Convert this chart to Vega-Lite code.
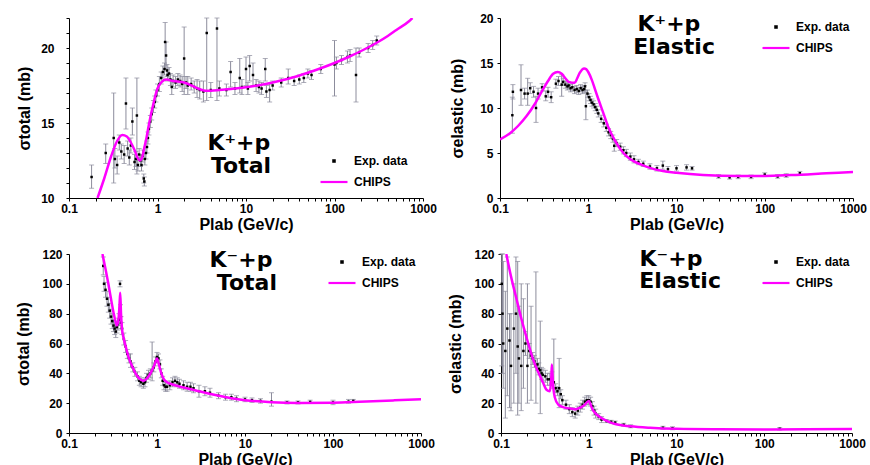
{
"$schema": "https://vega.github.io/schema/vega-lite/v6.json",
"padding": {"left": 15, "top": 12, "right": 5, "bottom": 0},
"background": "white",
"config": {
  "view": {"stroke": null},
  "axis": {"grid": false, "domainColor": "black", "tickColor": "black", "tickSize": 3, "labelFont": "Liberation Sans", "labelFontWeight": "bold", "labelFontSize": 12, "labelColor": "black", "titleFont": "Liberation Sans", "titleFontWeight": "bold", "titleFontSize": 16, "titleColor": "black", "labelOverlap": false, "labelSeparation": -20, "labelFlush": false},
  "legend": {"title": null, "labelFont": "Liberation Sans", "labelFontWeight": "bold", "labelFontSize": 12, "labelColor": "black", "symbolSize": 729, "symbolStrokeWidth": 2.2, "labelOffset": 5, "rowPadding": -15, "padding": 0}
},
"datasets": {
"exp": [
{"panel":"a","p":0.18,"s":11.4,"lo":10.65,"hi":12.2},{"panel":"a","p":0.26,"s":13.0,"lo":12.3,"hi":13.6},{"panel":"a","p":0.32,"s":14.0,"lo":11.0,"hi":17.0},{"panel":"a","p":0.33,"s":12.6,"lo":12.0,"hi":13.3},{"panel":"a","p":0.35,"s":12.2,"lo":11.6,"hi":12.8},{"panel":"a","p":0.37,"s":13.7,"lo":13.2,"hi":14.2},{"panel":"a","p":0.39,"s":13.1,"lo":12.6,"hi":13.6},{"panel":"a","p":0.42,"s":12.9,"lo":12.3,"hi":13.5},{"panel":"a","p":0.44,"s":16.3,"lo":14.6,"hi":18.0},{"panel":"a","p":0.46,"s":13.3,"lo":12.8,"hi":13.8},{"panel":"a","p":0.48,"s":12.7,"lo":12.2,"hi":13.2},{"panel":"a","p":0.5,"s":13.5,"lo":13.0,"hi":14.0},{"panel":"a","p":0.52,"s":15.1,"lo":14.2,"hi":16.0},{"panel":"a","p":0.55,"s":12.4,"lo":11.9,"hi":12.9},{"panel":"a","p":0.57,"s":12.6,"lo":12.1,"hi":13.1},{"panel":"a","p":0.585,"s":15.5,"lo":11.6,"hi":18.0},{"panel":"a","p":0.6,"s":12.2,"lo":11.8,"hi":12.7},{"panel":"a","p":0.62,"s":12.9,"lo":12.5,"hi":13.3},{"panel":"a","p":0.64,"s":12.5,"lo":12.1,"hi":12.9},{"panel":"a","p":0.66,"s":12.2,"lo":11.8,"hi":12.6},{"panel":"a","p":0.68,"s":12.8,"lo":12.4,"hi":13.2},{"panel":"a","p":0.7,"s":11.3,"lo":11.0,"hi":11.6},{"panel":"a","p":0.71,"s":11.1,"lo":10.8,"hi":11.4},{"panel":"a","p":0.72,"s":12.6,"lo":12.2,"hi":13.0},{"panel":"a","p":0.74,"s":13.0,"lo":12.6,"hi":13.4},{"panel":"a","p":0.76,"s":13.4,"lo":13.0,"hi":13.8},{"panel":"a","p":0.78,"s":14.0,"lo":13.6,"hi":14.4},{"panel":"a","p":0.8,"s":14.6,"lo":14.2,"hi":15.0},{"panel":"a","p":0.83,"s":15.1,"lo":14.7,"hi":15.5},{"panel":"a","p":0.86,"s":15.6,"lo":15.2,"hi":16.0},{"panel":"a","p":0.9,"s":16.1,"lo":15.7,"hi":16.5},{"panel":"a","p":0.93,"s":16.4,"lo":16.0,"hi":16.8},{"panel":"a","p":0.96,"s":16.8,"lo":16.4,"hi":17.2},{"panel":"a","p":1.0,"s":17.2,"lo":16.8,"hi":17.6},{"panel":"a","p":1.05,"s":17.6,"lo":17.1,"hi":18.1},{"panel":"a","p":1.1,"s":18.0,"lo":17.6,"hi":18.4},{"panel":"a","p":1.15,"s":18.4,"lo":18.0,"hi":18.8},{"panel":"a","p":1.2,"s":18.6,"lo":18.2,"hi":19.0},{"panel":"a","p":1.22,"s":20.4,"lo":18.6,"hi":21.7},{"panel":"a","p":1.25,"s":19.5,"lo":18.8,"hi":20.4},{"panel":"a","p":1.28,"s":18.5,"lo":18.1,"hi":18.9},{"panel":"a","p":1.3,"s":18.2,"lo":17.8,"hi":18.6},{"panel":"a","p":1.35,"s":18.3,"lo":17.9,"hi":18.7},{"panel":"a","p":1.4,"s":17.9,"lo":17.5,"hi":18.3},{"panel":"a","p":1.45,"s":17.4,"lo":16.9,"hi":17.9},{"panel":"a","p":1.5,"s":17.8,"lo":17.4,"hi":18.2},{"panel":"a","p":1.6,"s":17.7,"lo":17.3,"hi":18.1},{"panel":"a","p":1.7,"s":17.9,"lo":17.5,"hi":18.3},{"panel":"a","p":1.8,"s":17.8,"lo":17.4,"hi":18.2},{"panel":"a","p":1.9,"s":17.6,"lo":17.1,"hi":18.1},{"panel":"a","p":2.0,"s":19.3,"lo":16.9,"hi":21.4},{"panel":"a","p":2.1,"s":17.7,"lo":17.3,"hi":18.1},{"panel":"a","p":2.2,"s":17.5,"lo":16.9,"hi":18.1},{"panel":"a","p":2.4,"s":17.6,"lo":17.2,"hi":18.0},{"panel":"a","p":2.6,"s":17.4,"lo":17.0,"hi":17.8},{"panel":"a","p":2.8,"s":17.3,"lo":16.7,"hi":17.9},{"panel":"a","p":3.0,"s":17.2,"lo":16.6,"hi":17.8},{"panel":"a","p":3.3,"s":17.1,"lo":16.4,"hi":17.8},{"panel":"a","p":3.6,"s":21.0,"lo":16.5,"hi":22},{"panel":"a","p":4.0,"s":17.2,"lo":16.7,"hi":17.7},{"panel":"a","p":4.7,"s":21.3,"lo":16.5,"hi":22},{"panel":"a","p":5.0,"s":17.3,"lo":16.8,"hi":17.8},{"panel":"a","p":6.0,"s":17.2,"lo":16.8,"hi":17.6},{"panel":"a","p":6.7,"s":18.4,"lo":17.4,"hi":19.1},{"panel":"a","p":7.5,"s":17.3,"lo":16.9,"hi":17.7},{"panel":"a","p":8.5,"s":18.0,"lo":17.0,"hi":19.3},{"panel":"a","p":9.0,"s":17.4,"lo":16.9,"hi":17.9},{"panel":"a","p":10.0,"s":18.6,"lo":17.5,"hi":19.4},{"panel":"a","p":10.5,"s":17.3,"lo":16.9,"hi":17.7},{"panel":"a","p":11.0,"s":18.8,"lo":17.8,"hi":19.5},{"panel":"a","p":12.0,"s":18.2,"lo":17.5,"hi":19.0},{"panel":"a","p":13.0,"s":17.5,"lo":17.1,"hi":17.9},{"panel":"a","p":14.0,"s":17.4,"lo":17.0,"hi":17.8},{"panel":"a","p":15.0,"s":17.3,"lo":16.9,"hi":17.7},{"panel":"a","p":16.5,"s":18.6,"lo":17.8,"hi":19.3},{"panel":"a","p":17.0,"s":17.1,"lo":16.7,"hi":17.5},{"panel":"a","p":18.5,"s":17.2,"lo":16.4,"hi":17.6},{"panel":"a","p":20.0,"s":17.5,"lo":17.2,"hi":17.8},{"panel":"a","p":25.0,"s":17.7,"lo":17.4,"hi":18.0},{"panel":"a","p":30.0,"s":18.0,"lo":17.6,"hi":18.6},{"panel":"a","p":35.0,"s":17.8,"lo":17.5,"hi":18.1},{"panel":"a","p":40.0,"s":17.9,"lo":17.6,"hi":18.2},{"panel":"a","p":45.0,"s":18.0,"lo":17.7,"hi":18.3},{"panel":"a","p":50.0,"s":18.3,"lo":18.0,"hi":18.6},{"panel":"a","p":55.0,"s":18.2,"lo":17.9,"hi":18.5},{"panel":"a","p":70.0,"s":18.6,"lo":18.3,"hi":18.9},{"panel":"a","p":100.0,"s":18.9,"lo":16.8,"hi":20.5},{"panel":"a","p":105.0,"s":19.0,"lo":18.6,"hi":19.4},{"panel":"a","p":120.0,"s":19.2,"lo":18.9,"hi":19.5},{"panel":"a","p":140.0,"s":19.4,"lo":19.0,"hi":19.8},{"panel":"a","p":150.0,"s":19.5,"lo":19.1,"hi":19.9},{"panel":"a","p":175.0,"s":18.2,"lo":16.4,"hi":20.0},{"panel":"a","p":190.0,"s":19.7,"lo":19.4,"hi":20.0},{"panel":"a","p":240.0,"s":20.0,"lo":19.7,"hi":20.3},{"panel":"a","p":270.0,"s":20.2,"lo":19.9,"hi":20.5},{"panel":"a","p":300.0,"s":20.5,"lo":20.2,"hi":20.8},
{"panel":"b","p":0.138,"s":9.2,"lo":7.2,"hi":11.2},{"panel":"b","p":0.14,"s":11.8,"lo":11.0,"hi":12.6},{"panel":"b","p":0.173,"s":12.0,"lo":10.3,"hi":14.8},{"panel":"b","p":0.19,"s":11.6,"lo":11.0,"hi":12.2},{"panel":"b","p":0.206,"s":11.6,"lo":10.3,"hi":13.3},{"panel":"b","p":0.22,"s":12.2,"lo":11.6,"hi":12.8},{"panel":"b","p":0.24,"s":11.8,"lo":11.2,"hi":12.4},{"panel":"b","p":0.256,"s":10.0,"lo":8.4,"hi":11.3},{"panel":"b","p":0.27,"s":11.6,"lo":11.0,"hi":12.2},{"panel":"b","p":0.3,"s":12.3,"lo":11.9,"hi":12.7},{"panel":"b","p":0.33,"s":11.3,"lo":10.8,"hi":11.9},{"panel":"b","p":0.35,"s":11.8,"lo":11.2,"hi":12.3},{"panel":"b","p":0.38,"s":11.2,"lo":10.6,"hi":11.8},{"panel":"b","p":0.43,"s":12.7,"lo":12.2,"hi":13.2},{"panel":"b","p":0.46,"s":13.0,"lo":12.5,"hi":13.5},{"panel":"b","p":0.5,"s":12.6,"lo":11.3,"hi":13.7},{"panel":"b","p":0.52,"s":12.9,"lo":12.5,"hi":13.3},{"panel":"b","p":0.55,"s":12.6,"lo":12.2,"hi":13.0},{"panel":"b","p":0.58,"s":12.4,"lo":12.0,"hi":12.8},{"panel":"b","p":0.6,"s":12.5,"lo":12.1,"hi":12.9},{"panel":"b","p":0.63,"s":12.2,"lo":11.8,"hi":12.6},{"panel":"b","p":0.66,"s":12.3,"lo":11.9,"hi":12.7},{"panel":"b","p":0.7,"s":12.0,"lo":11.6,"hi":12.4},{"panel":"b","p":0.74,"s":12.1,"lo":11.7,"hi":12.5},{"panel":"b","p":0.78,"s":11.9,"lo":11.5,"hi":12.3},{"panel":"b","p":0.82,"s":12.2,"lo":11.8,"hi":12.6},{"panel":"b","p":0.86,"s":12.0,"lo":11.6,"hi":12.4},{"panel":"b","p":0.9,"s":12.1,"lo":11.7,"hi":12.5},{"panel":"b","p":0.92,"s":12.4,"lo":12.0,"hi":12.8},{"panel":"b","p":0.94,"s":10.2,"lo":8.7,"hi":11.9},{"panel":"b","p":0.98,"s":11.6,"lo":11.2,"hi":12.0},{"panel":"b","p":1.02,"s":11.2,"lo":10.8,"hi":11.6},{"panel":"b","p":1.06,"s":10.9,"lo":10.5,"hi":11.3},{"panel":"b","p":1.1,"s":10.6,"lo":10.2,"hi":11.0},{"panel":"b","p":1.15,"s":10.4,"lo":10.0,"hi":10.8},{"panel":"b","p":1.2,"s":10.1,"lo":9.7,"hi":10.5},{"panel":"b","p":1.25,"s":9.8,"lo":9.4,"hi":10.2},{"panel":"b","p":1.3,"s":9.4,"lo":9.0,"hi":9.8},{"panel":"b","p":1.4,"s":8.8,"lo":8.4,"hi":9.2},{"panel":"b","p":1.5,"s":8.3,"lo":7.9,"hi":8.7},{"panel":"b","p":1.6,"s":7.8,"lo":7.4,"hi":8.2},{"panel":"b","p":1.7,"s":7.3,"lo":6.9,"hi":7.7},{"panel":"b","p":1.8,"s":7.0,"lo":6.6,"hi":7.4},{"panel":"b","p":1.9,"s":6.6,"lo":6.2,"hi":7.0},{"panel":"b","p":1.97,"s":5.8,"lo":5.2,"hi":6.4},{"panel":"b","p":2.1,"s":6.1,"lo":5.7,"hi":6.5},{"panel":"b","p":2.3,"s":5.7,"lo":5.3,"hi":6.1},{"panel":"b","p":2.5,"s":5.3,"lo":4.9,"hi":5.7},{"panel":"b","p":2.7,"s":5.0,"lo":4.6,"hi":5.4},{"panel":"b","p":3.0,"s":4.6,"lo":4.2,"hi":5.0},{"panel":"b","p":3.3,"s":4.3,"lo":3.9,"hi":4.7},{"panel":"b","p":3.7,"s":4.0,"lo":3.7,"hi":4.3},{"panel":"b","p":4.2,"s":3.8,"lo":3.5,"hi":4.1},{"panel":"b","p":5.0,"s":3.5,"lo":3.2,"hi":3.8},{"panel":"b","p":6.0,"s":3.3,"lo":3.0,"hi":3.6},{"panel":"b","p":7.0,"s":3.6,"lo":3.2,"hi":4.1},{"panel":"b","p":8.0,"s":3.2,"lo":2.9,"hi":3.5},{"panel":"b","p":10.0,"s":3.3,"lo":3.0,"hi":3.6},{"panel":"b","p":13.0,"s":3.4,"lo":3.1,"hi":3.7},{"panel":"b","p":15.0,"s":3.3,"lo":3.1,"hi":3.5},{"panel":"b","p":30.0,"s":2.4,"lo":2.2,"hi":2.6},{"panel":"b","p":40.0,"s":2.3,"lo":2.1,"hi":2.5},{"panel":"b","p":50.0,"s":2.35,"lo":2.15,"hi":2.55},{"panel":"b","p":70.0,"s":2.35,"lo":2.15,"hi":2.55},{"panel":"b","p":100.0,"s":2.6,"lo":2.4,"hi":2.8},{"panel":"b","p":140.0,"s":2.4,"lo":2.2,"hi":2.6},{"panel":"b","p":175.0,"s":2.5,"lo":2.3,"hi":2.7},{"panel":"b","p":250.0,"s":2.75,"lo":2.55,"hi":2.95},
{"panel":"c","p":0.245,"s":112,"lo":106,"hi":118},{"panel":"c","p":0.25,"s":100,"lo":95,"hi":105},{"panel":"c","p":0.26,"s":96,"lo":91,"hi":101},{"panel":"c","p":0.27,"s":90,"lo":85,"hi":95},{"panel":"c","p":0.28,"s":86,"lo":81,"hi":91},{"panel":"c","p":0.29,"s":82,"lo":77,"hi":87},{"panel":"c","p":0.3,"s":78,"lo":73,"hi":83},{"panel":"c","p":0.31,"s":75,"lo":70,"hi":80},{"panel":"c","p":0.32,"s":72,"lo":68,"hi":76},{"panel":"c","p":0.33,"s":70,"lo":66,"hi":74},{"panel":"c","p":0.34,"s":68,"lo":64,"hi":72},{"panel":"c","p":0.35,"s":71,"lo":67,"hi":75},{"panel":"c","p":0.36,"s":73,"lo":69,"hi":77},{"panel":"c","p":0.37,"s":76,"lo":72,"hi":80},{"panel":"c","p":0.38,"s":100,"lo":98,"hi":102},{"panel":"c","p":0.385,"s":82,"lo":78,"hi":86},{"panel":"c","p":0.39,"s":74,"lo":70,"hi":78},{"panel":"c","p":0.4,"s":70,"lo":66,"hi":74},{"panel":"c","p":0.42,"s":63,"lo":59,"hi":67},{"panel":"c","p":0.44,"s":58,"lo":54,"hi":62},{"panel":"c","p":0.46,"s":53,"lo":50,"hi":56},{"panel":"c","p":0.48,"s":50,"lo":47,"hi":53},{"panel":"c","p":0.5,"s":48,"lo":44,"hi":53},{"panel":"c","p":0.53,"s":44,"lo":41,"hi":47},{"panel":"c","p":0.56,"s":41,"lo":38,"hi":44},{"panel":"c","p":0.6,"s":38,"lo":35,"hi":41},{"panel":"c","p":0.63,"s":35,"lo":32,"hi":38},{"panel":"c","p":0.66,"s":34,"lo":31,"hi":37},{"panel":"c","p":0.7,"s":33,"lo":30,"hi":36},{"panel":"c","p":0.73,"s":34,"lo":31,"hi":37},{"panel":"c","p":0.76,"s":37,"lo":34,"hi":40},{"panel":"c","p":0.8,"s":39,"lo":36,"hi":42},{"panel":"c","p":0.84,"s":40,"lo":37,"hi":43},{"panel":"c","p":0.88,"s":42,"lo":35,"hi":61},{"panel":"c","p":0.92,"s":44,"lo":41,"hi":47},{"panel":"c","p":0.96,"s":48,"lo":45,"hi":51},{"panel":"c","p":1.0,"s":51,"lo":48,"hi":54},{"panel":"c","p":1.04,"s":50,"lo":47,"hi":53},{"panel":"c","p":1.08,"s":46,"lo":43,"hi":49},{"panel":"c","p":1.12,"s":40,"lo":37,"hi":43},{"panel":"c","p":1.16,"s":35,"lo":32,"hi":38},{"panel":"c","p":1.2,"s":32,"lo":29,"hi":35},{"panel":"c","p":1.25,"s":31,"lo":28,"hi":34},{"panel":"c","p":1.3,"s":31,"lo":28,"hi":34},{"panel":"c","p":1.4,"s":32,"lo":29,"hi":35},{"panel":"c","p":1.5,"s":34,"lo":31,"hi":37},{"panel":"c","p":1.6,"s":35,"lo":32,"hi":38},{"panel":"c","p":1.7,"s":34,"lo":31,"hi":37},{"panel":"c","p":1.8,"s":33,"lo":30,"hi":36},{"panel":"c","p":2.0,"s":32,"lo":29,"hi":35},{"panel":"c","p":2.2,"s":31,"lo":28,"hi":34},{"panel":"c","p":2.4,"s":31,"lo":28,"hi":34},{"panel":"c","p":2.6,"s":30,"lo":27,"hi":33},{"panel":"c","p":3.0,"s":28,"lo":24,"hi":32},{"panel":"c","p":3.5,"s":28,"lo":25,"hi":31},{"panel":"c","p":4.0,"s":27,"lo":24,"hi":30},{"panel":"c","p":5.0,"s":25,"lo":23,"hi":27},{"panel":"c","p":6.0,"s":24,"lo":22,"hi":26},{"panel":"c","p":7.0,"s":24,"lo":22,"hi":26},{"panel":"c","p":8.0,"s":23,"lo":21,"hi":25},{"panel":"c","p":10.0,"s":22.5,"lo":21,"hi":24},{"panel":"c","p":12.0,"s":22,"lo":20.5,"hi":23.5},{"panel":"c","p":15.0,"s":21.5,"lo":20,"hi":23},{"panel":"c","p":20.0,"s":21,"lo":18,"hi":27},{"panel":"c","p":30.0,"s":20.5,"lo":19.5,"hi":21.5},{"panel":"c","p":40.0,"s":20.5,"lo":19.5,"hi":21.5},{"panel":"c","p":55.0,"s":20.8,"lo":19.8,"hi":22},{"panel":"c","p":100.0,"s":20.5,"lo":19,"hi":22},{"panel":"c","p":150.0,"s":21,"lo":20,"hi":22.5},{"panel":"c","p":170.0,"s":21.5,"lo":20.5,"hi":22.5},
{"panel":"d","p":0.102,"s":100,"lo":45,"hi":120},{"panel":"d","p":0.104,"s":80,"lo":40,"hi":120},{"panel":"d","p":0.106,"s":60,"lo":30,"hi":115},{"panel":"d","p":0.112,"s":55,"lo":10,"hi":95},{"panel":"d","p":0.118,"s":70,"lo":25,"hi":118},{"panel":"d","p":0.125,"s":62,"lo":17,"hi":80},{"panel":"d","p":0.13,"s":45,"lo":15,"hi":80},{"panel":"d","p":0.14,"s":70,"lo":20,"hi":100},{"panel":"d","p":0.148,"s":80,"lo":40,"hi":118},{"panel":"d","p":0.155,"s":58,"lo":12,"hi":115},{"panel":"d","p":0.16,"s":50,"lo":20,"hi":85},{"panel":"d","p":0.17,"s":45,"lo":15,"hi":100},{"panel":"d","p":0.18,"s":55,"lo":30,"hi":90},{"panel":"d","p":0.19,"s":60,"lo":52,"hi":68},{"panel":"d","p":0.2,"s":45,"lo":20,"hi":100},{"panel":"d","p":0.21,"s":55,"lo":50,"hi":60},{"panel":"d","p":0.22,"s":52,"lo":22,"hi":85},{"panel":"d","p":0.23,"s":50,"lo":46,"hi":54},{"panel":"d","p":0.24,"s":48,"lo":44,"hi":52},{"panel":"d","p":0.25,"s":45,"lo":20,"hi":108},{"panel":"d","p":0.26,"s":46,"lo":42,"hi":50},{"panel":"d","p":0.27,"s":43,"lo":39,"hi":47},{"panel":"d","p":0.28,"s":42,"lo":13,"hi":75},{"panel":"d","p":0.29,"s":40,"lo":36,"hi":44},{"panel":"d","p":0.3,"s":39,"lo":35,"hi":43},{"panel":"d","p":0.32,"s":38,"lo":34,"hi":42},{"panel":"d","p":0.34,"s":36,"lo":32,"hi":40},{"panel":"d","p":0.36,"s":36,"lo":32,"hi":40},{"panel":"d","p":0.38,"s":37,"lo":33,"hi":41},{"panel":"d","p":0.4,"s":34,"lo":30,"hi":63},{"panel":"d","p":0.42,"s":30,"lo":27,"hi":33},{"panel":"d","p":0.44,"s":28,"lo":25,"hi":31},{"panel":"d","p":0.46,"s":30,"lo":17,"hi":50},{"panel":"d","p":0.48,"s":26,"lo":23,"hi":29},{"panel":"d","p":0.5,"s":22,"lo":19,"hi":25},{"panel":"d","p":0.55,"s":19,"lo":16,"hi":22},{"panel":"d","p":0.6,"s":16,"lo":13,"hi":19},{"panel":"d","p":0.65,"s":14,"lo":11,"hi":17},{"panel":"d","p":0.7,"s":13,"lo":10,"hi":16},{"panel":"d","p":0.75,"s":15,"lo":12,"hi":18},{"panel":"d","p":0.8,"s":17,"lo":14,"hi":20},{"panel":"d","p":0.85,"s":19,"lo":16,"hi":22},{"panel":"d","p":0.9,"s":21,"lo":18,"hi":24},{"panel":"d","p":0.95,"s":22,"lo":19,"hi":25},{"panel":"d","p":1.0,"s":22,"lo":19,"hi":25},{"panel":"d","p":1.05,"s":21,"lo":18,"hi":24},{"panel":"d","p":1.1,"s":18,"lo":15,"hi":21},{"panel":"d","p":1.15,"s":15,"lo":12,"hi":18},{"panel":"d","p":1.2,"s":13,"lo":10,"hi":16},{"panel":"d","p":1.3,"s":11,"lo":9,"hi":13},{"panel":"d","p":1.4,"s":9,"lo":7,"hi":11},{"panel":"d","p":1.6,"s":8,"lo":7,"hi":9},{"panel":"d","p":1.8,"s":7.5,"lo":6.5,"hi":8.5},{"panel":"d","p":2.0,"s":7,"lo":6,"hi":8},{"panel":"d","p":2.5,"s":5.5,"lo":4.5,"hi":6.5},{"panel":"d","p":3.0,"s":4.5,"lo":3.5,"hi":5.5},{"panel":"d","p":7.0,"s":3.5,"lo":2.5,"hi":4.5},{"panel":"d","p":9.0,"s":3.2,"lo":2.2,"hi":4.2},{"panel":"d","p":150.0,"s":2.8,"lo":2.0,"hi":3.6}
],
"chips": [
{"panel":"a","p":0.21,"s":10},{"panel":"a","p":0.25,"s":11.3},{"panel":"a","p":0.3,"s":12.8},{"panel":"a","p":0.35,"s":13.8},{"panel":"a","p":0.4,"s":14.2},{"panel":"a","p":0.45,"s":14.1},{"panel":"a","p":0.5,"s":13.7},{"panel":"a","p":0.55,"s":13.2},{"panel":"a","p":0.6,"s":12.65},{"panel":"a","p":0.63,"s":12.5},{"panel":"a","p":0.67,"s":12.7},{"panel":"a","p":0.7,"s":13.2},{"panel":"a","p":0.75,"s":14.0},{"panel":"a","p":0.8,"s":14.9},{"panel":"a","p":0.9,"s":16.3},{"panel":"a","p":1.0,"s":17.3},{"panel":"a","p":1.1,"s":17.7},{"panel":"a","p":1.25,"s":17.9},{"panel":"a","p":1.5,"s":17.8},{"panel":"a","p":2.0,"s":17.7},{"panel":"a","p":3.0,"s":17.25},{"panel":"a","p":3.5,"s":17.15},{"panel":"a","p":5.0,"s":17.2},{"panel":"a","p":9.0,"s":17.35},{"panel":"a","p":15.0,"s":17.55},{"panel":"a","p":20.0,"s":17.7},{"panel":"a","p":30.0,"s":17.95},{"panel":"a","p":50.0,"s":18.35},{"panel":"a","p":70.0,"s":18.65},{"panel":"a","p":100.0,"s":19.0},{"panel":"a","p":150.0,"s":19.45},{"panel":"a","p":200.0,"s":19.8},{"panel":"a","p":300.0,"s":20.35},{"panel":"a","p":400.0,"s":20.8},{"panel":"a","p":500.0,"s":21.2},{"panel":"a","p":700.0,"s":21.8},{"panel":"a","p":760.0,"s":22},
{"panel":"b","p":0.1,"s":6.5},{"panel":"b","p":0.13,"s":7.2},{"panel":"b","p":0.16,"s":8.0},{"panel":"b","p":0.2,"s":9.1},{"panel":"b","p":0.25,"s":10.5},{"panel":"b","p":0.3,"s":11.9},{"panel":"b","p":0.35,"s":13.0},{"panel":"b","p":0.4,"s":13.8},{"panel":"b","p":0.45,"s":14.0},{"panel":"b","p":0.5,"s":13.8},{"panel":"b","p":0.55,"s":13.3},{"panel":"b","p":0.6,"s":12.9},{"panel":"b","p":0.7,"s":12.8},{"panel":"b","p":0.75,"s":13.3},{"panel":"b","p":0.8,"s":13.9},{"panel":"b","p":0.9,"s":14.4},{"panel":"b","p":0.95,"s":14.3},{"panel":"b","p":1.0,"s":14.0},{"panel":"b","p":1.1,"s":13.1},{"panel":"b","p":1.2,"s":12.0},{"panel":"b","p":1.3,"s":11.0},{"panel":"b","p":1.5,"s":9.3},{"panel":"b","p":1.7,"s":7.8},{"panel":"b","p":2.0,"s":6.4},{"panel":"b","p":2.5,"s":5.0},{"panel":"b","p":3.0,"s":4.3},{"panel":"b","p":4.0,"s":3.7},{"panel":"b","p":5.0,"s":3.35},{"panel":"b","p":7.0,"s":3.0},{"panel":"b","p":10.0,"s":2.8},{"panel":"b","p":20.0,"s":2.55},{"panel":"b","p":50.0,"s":2.45},{"panel":"b","p":100.0,"s":2.45},{"panel":"b","p":200.0,"s":2.55},{"panel":"b","p":500.0,"s":2.75},{"panel":"b","p":1000.0,"s":2.9},
{"panel":"c","p":0.24,"s":120},{"panel":"c","p":0.26,"s":110},{"panel":"c","p":0.28,"s":100},{"panel":"c","p":0.3,"s":90},{"panel":"c","p":0.32,"s":81},{"panel":"c","p":0.34,"s":74},{"panel":"c","p":0.35,"s":72},{"panel":"c","p":0.365,"s":76},{"panel":"c","p":0.375,"s":86},{"panel":"c","p":0.382,"s":94},{"panel":"c","p":0.39,"s":80},{"panel":"c","p":0.4,"s":70},{"panel":"c","p":0.42,"s":63},{"panel":"c","p":0.45,"s":56},{"panel":"c","p":0.48,"s":50},{"panel":"c","p":0.52,"s":45},{"panel":"c","p":0.57,"s":40},{"panel":"c","p":0.62,"s":37},{"panel":"c","p":0.7,"s":35},{"panel":"c","p":0.78,"s":37},{"panel":"c","p":0.86,"s":41},{"panel":"c","p":0.94,"s":46},{"panel":"c","p":1.0,"s":50},{"panel":"c","p":1.05,"s":46},{"panel":"c","p":1.12,"s":40},{"panel":"c","p":1.2,"s":36},{"panel":"c","p":1.3,"s":34},{"panel":"c","p":1.5,"s":32.5},{"panel":"c","p":2.0,"s":30.5},{"panel":"c","p":3.0,"s":28},{"panel":"c","p":5.0,"s":25},{"panel":"c","p":7.0,"s":23.3},{"panel":"c","p":10.0,"s":22},{"panel":"c","p":20.0,"s":20.6},{"panel":"c","p":40.0,"s":20.1},{"panel":"c","p":100.0,"s":20.3},{"panel":"c","p":200.0,"s":20.9},{"panel":"c","p":500.0,"s":21.9},{"panel":"c","p":1000.0,"s":22.7},
{"panel":"d","p":0.115,"s":120},{"panel":"d","p":0.13,"s":105},{"panel":"d","p":0.15,"s":90},{"panel":"d","p":0.17,"s":77},{"panel":"d","p":0.2,"s":62},{"panel":"d","p":0.23,"s":50},{"panel":"d","p":0.26,"s":42},{"panel":"d","p":0.3,"s":34},{"panel":"d","p":0.33,"s":29},{"panel":"d","p":0.36,"s":28},{"panel":"d","p":0.375,"s":38},{"panel":"d","p":0.38,"s":46},{"panel":"d","p":0.39,"s":34},{"panel":"d","p":0.41,"s":24},{"panel":"d","p":0.45,"s":19},{"panel":"d","p":0.5,"s":17.5},{"panel":"d","p":0.6,"s":16.5},{"panel":"d","p":0.7,"s":16},{"panel":"d","p":0.8,"s":17},{"panel":"d","p":0.9,"s":19},{"panel":"d","p":1.0,"s":21.5},{"panel":"d","p":1.1,"s":16},{"panel":"d","p":1.2,"s":13},{"panel":"d","p":1.4,"s":10},{"panel":"d","p":1.7,"s":7.5},{"panel":"d","p":2.0,"s":6},{"panel":"d","p":3.0,"s":4.5},{"panel":"d","p":5.0,"s":3.5},{"panel":"d","p":10.0,"s":2.8},{"panel":"d","p":30.0,"s":2.5},{"panel":"d","p":100.0,"s":2.4},{"panel":"d","p":300.0,"s":2.5},{"panel":"d","p":1000.0,"s":2.6}
],
"notes": [
{"panel":"a","p":8.3,"s":13.67,"label":"K⁺+p"},{"panel":"a","p":8.8,"s":12.13,"label":"Total"},
{"panel":"b","p":8.2,"s":19.3,"label":"K⁺+p"},{"panel":"b","p":9.4,"s":16.8,"label":"Elastic"},
{"panel":"c","p":9.0,"s":116,"label":"K⁻+p"},{"panel":"c","p":10.5,"s":100.7,"label":"Total"},
{"panel":"d","p":8.65,"s":116.6,"label":"K⁻+p"},{"panel":"d","p":11,"s":101.9,"label":"Elastic"}
]
},
"spacing": 15,
"resolve": {"scale": {"x": "independent", "y": "independent", "color": "independent", "shape": "independent"}, "legend": {"color": "independent", "shape": "independent"}},
"vconcat": [
{"hconcat": [
{"width": 354, "height": 180, "layer": [
 {"data": {"name": "exp"}, "transform": [{"filter": "datum.panel === 'a'"}], "mark": {"type": "rule", "color": "#8c8c9c", "strokeWidth": 1},
  "encoding": {"x": {"field": "p", "type": "quantitative", "scale": {"type": "log", "domain": [0.1, 1000]}}, "y": {"field": "lo", "type": "quantitative", "scale": {"domain": [10, 22], "nice": false, "zero": false}}, "y2": {"field": "hi"}}},
 {"data": {"name": "exp"}, "transform": [{"filter": "datum.panel === 'a'"}], "mark": {"type": "tick", "orient": "horizontal", "size": 5, "thickness": 1, "color": "#8c8c9c"}, "encoding": {"x": {"field": "p", "type": "quantitative"}, "y": {"field": "lo", "type": "quantitative"}}},
 {"data": {"name": "exp"}, "transform": [{"filter": "datum.panel === 'a'"}], "mark": {"type": "tick", "orient": "horizontal", "size": 5, "thickness": 1, "color": "#8c8c9c"}, "encoding": {"x": {"field": "p", "type": "quantitative"}, "y": {"field": "hi", "type": "quantitative"}}},
 {"data": {"name": "exp"}, "transform": [{"filter": "datum.panel === 'a'"}], "mark": {"type": "point", "filled": false, "size": 300, "strokeWidth": 1.6, "opacity": 1},
  "encoding": {"x": {"field": "p", "type": "quantitative", "axis": {"title": "Plab (GeV/c)", "titlePadding": 2, "labelOverlap": false, "values": [0.1,0.2,0.3,0.4,0.5,0.6,0.7,0.8,0.9,1,2,3,4,5,6,7,8,9,10,20,30,40,50,60,70,80,90,100,200,300,400,500,600,700,800,900,1000], "labelExpr": "datum.value == 0.1 ? '0.1' : datum.value == 1 ? '1' : datum.value == 10 ? '10' : datum.value == 100 ? '100' : datum.value == 1000 ? '1000' : ''"}},
   "y": {"field": "s", "type": "quantitative", "axis": {"title": "σtotal (mb)", "labelOverlap": false, "tickCount": 13, "values": [10,11,12,13,14,15,16,17,18,19,20,21,22], "labelExpr": "datum.value == 10 ? '10' : datum.value == 15 ? '15' : datum.value == 20 ? '20' : ''", "labelPadding": 12, "titlePadding": 8}},
   "color": {"datum": "Exp. data", "scale": {"domain": ["Exp. data", "CHIPS"], "range": ["black", "#ff00ff"]}, "legend": {"orient": "none", "legendX": 250, "legendY": 128}},
   "shape": {"datum": "Exp. data", "scale": {"domain": ["Exp. data", "CHIPS"], "range": ["M-0.05,-0.05H0.05V0.05H-0.05Z", "stroke"]}, "legend": {"orient": "none", "legendX": 250, "legendY": 128}}}},
 {"data": {"name": "chips"}, "transform": [{"filter": "datum.panel === 'a'"}], "mark": {"type": "line", "strokeWidth": 2.5, "interpolate": "monotone", "clip": true},
  "encoding": {"x": {"field": "p", "type": "quantitative"}, "y": {"field": "s", "type": "quantitative"}, "color": {"datum": "CHIPS"}}},
 {"data": {"name": "notes"}, "transform": [{"filter": "datum.panel === 'a'"}], "mark": {"type": "text", "font": "DejaVu Sans", "fontWeight": "bold", "fontSize": 22, "align": "center", "baseline": "middle", "color": "black"},
  "encoding": {"x": {"field": "p", "type": "quantitative"}, "y": {"field": "s", "type": "quantitative"}, "text": {"field": "label"}}}
]},
{"width": 353, "height": 180, "layer": [
 {"data": {"name": "exp"}, "transform": [{"filter": "datum.panel === 'b'"}], "mark": {"type": "rule", "color": "#8c8c9c", "strokeWidth": 1},
  "encoding": {"x": {"field": "p", "type": "quantitative", "scale": {"type": "log", "domain": [0.1, 1000]}}, "y": {"field": "lo", "type": "quantitative", "scale": {"domain": [0, 20], "nice": false}}, "y2": {"field": "hi"}}},
 {"data": {"name": "exp"}, "transform": [{"filter": "datum.panel === 'b'"}], "mark": {"type": "tick", "orient": "horizontal", "size": 5, "thickness": 1, "color": "#8c8c9c"}, "encoding": {"x": {"field": "p", "type": "quantitative"}, "y": {"field": "lo", "type": "quantitative"}}},
 {"data": {"name": "exp"}, "transform": [{"filter": "datum.panel === 'b'"}], "mark": {"type": "tick", "orient": "horizontal", "size": 5, "thickness": 1, "color": "#8c8c9c"}, "encoding": {"x": {"field": "p", "type": "quantitative"}, "y": {"field": "hi", "type": "quantitative"}}},
 {"data": {"name": "exp"}, "transform": [{"filter": "datum.panel === 'b'"}], "mark": {"type": "point", "filled": false, "size": 300, "strokeWidth": 1.6, "opacity": 1},
  "encoding": {"x": {"field": "p", "type": "quantitative", "axis": {"title": "Plab (GeV/c)", "titlePadding": 2, "labelOverlap": false, "values": [0.1,0.2,0.3,0.4,0.5,0.6,0.7,0.8,0.9,1,2,3,4,5,6,7,8,9,10,20,30,40,50,60,70,80,90,100,200,300,400,500,600,700,800,900,1000], "labelExpr": "datum.value == 0.1 ? '0.1' : datum.value == 1 ? '1' : datum.value == 10 ? '10' : datum.value == 100 ? '100' : datum.value == 1000 ? '1000' : ''"}},
   "y": {"field": "s", "type": "quantitative", "axis": {"title": "σelastic (mb)", "labelOverlap": false, "tickCount": 5, "values": [0, 5, 10, 15, 20], "labelPadding": 4, "titlePadding": 14}},
   "color": {"datum": "Exp. data", "scale": {"domain": ["Exp. data", "CHIPS"], "range": ["black", "#ff00ff"]}, "legend": {"orient": "none", "legendX": 261, "legendY": -6}},
   "shape": {"datum": "Exp. data", "scale": {"domain": ["Exp. data", "CHIPS"], "range": ["M-0.05,-0.05H0.05V0.05H-0.05Z", "stroke"]}, "legend": {"orient": "none", "legendX": 261, "legendY": -6}}}},
 {"data": {"name": "chips"}, "transform": [{"filter": "datum.panel === 'b'"}], "mark": {"type": "line", "strokeWidth": 2.5, "interpolate": "monotone", "clip": true},
  "encoding": {"x": {"field": "p", "type": "quantitative"}, "y": {"field": "s", "type": "quantitative"}, "color": {"datum": "CHIPS"}}},
 {"data": {"name": "notes"}, "transform": [{"filter": "datum.panel === 'b'"}], "mark": {"type": "text", "font": "DejaVu Sans", "fontWeight": "bold", "fontSize": 22, "align": "center", "baseline": "middle", "color": "black"},
  "encoding": {"x": {"field": "p", "type": "quantitative"}, "y": {"field": "s", "type": "quantitative"}, "text": {"field": "label"}}}
]}
], "spacing": 12, "resolve": {"scale": {"x": "independent", "y": "independent", "color": "independent", "shape": "independent"}, "legend": {"color": "independent", "shape": "independent"}}},
{"hconcat": [
{"width": 352, "height": 179, "layer": [
 {"data": {"name": "exp"}, "transform": [{"filter": "datum.panel === 'c'"}], "mark": {"type": "rule", "color": "#8c8c9c", "strokeWidth": 1},
  "encoding": {"x": {"field": "p", "type": "quantitative", "scale": {"type": "log", "domain": [0.1, 1000]}}, "y": {"field": "lo", "type": "quantitative", "scale": {"domain": [0, 120], "nice": false}}, "y2": {"field": "hi"}}},
 {"data": {"name": "exp"}, "transform": [{"filter": "datum.panel === 'c'"}], "mark": {"type": "tick", "orient": "horizontal", "size": 5, "thickness": 1, "color": "#8c8c9c"}, "encoding": {"x": {"field": "p", "type": "quantitative"}, "y": {"field": "lo", "type": "quantitative"}}},
 {"data": {"name": "exp"}, "transform": [{"filter": "datum.panel === 'c'"}], "mark": {"type": "tick", "orient": "horizontal", "size": 5, "thickness": 1, "color": "#8c8c9c"}, "encoding": {"x": {"field": "p", "type": "quantitative"}, "y": {"field": "hi", "type": "quantitative"}}},
 {"data": {"name": "exp"}, "transform": [{"filter": "datum.panel === 'c'"}], "mark": {"type": "point", "filled": false, "size": 300, "strokeWidth": 1.6, "opacity": 1},
  "encoding": {"x": {"field": "p", "type": "quantitative", "axis": {"title": "Plab (GeV/c)", "titlePadding": 2, "labelOverlap": false, "values": [0.1,0.2,0.3,0.4,0.5,0.6,0.7,0.8,0.9,1,2,3,4,5,6,7,8,9,10,20,30,40,50,60,70,80,90,100,200,300,400,500,600,700,800,900,1000], "labelExpr": "datum.value == 0.1 ? '0.1' : datum.value == 1 ? '1' : datum.value == 10 ? '10' : datum.value == 100 ? '100' : datum.value == 1000 ? '1000' : ''"}},
   "y": {"field": "s", "type": "quantitative", "axis": {"title": "σtotal (mb)", "labelOverlap": false, "tickCount": 7, "values": [0, 20, 40, 60, 80, 100, 120], "labelPadding": 4, "titlePadding": 10}},
   "color": {"datum": "Exp. data", "scale": {"domain": ["Exp. data", "CHIPS"], "range": ["black", "#ff00ff"]}, "legend": {"orient": "none", "legendX": 258, "legendY": -7}},
   "shape": {"datum": "Exp. data", "scale": {"domain": ["Exp. data", "CHIPS"], "range": ["M-0.05,-0.05H0.05V0.05H-0.05Z", "stroke"]}, "legend": {"orient": "none", "legendX": 258, "legendY": -7}}}},
 {"data": {"name": "chips"}, "transform": [{"filter": "datum.panel === 'c'"}], "mark": {"type": "line", "strokeWidth": 2.5, "interpolate": "monotone", "clip": true},
  "encoding": {"x": {"field": "p", "type": "quantitative"}, "y": {"field": "s", "type": "quantitative"}, "color": {"datum": "CHIPS"}}},
 {"data": {"name": "notes"}, "transform": [{"filter": "datum.panel === 'c'"}], "mark": {"type": "text", "font": "DejaVu Sans", "fontWeight": "bold", "fontSize": 22, "align": "center", "baseline": "middle", "color": "black"},
  "encoding": {"x": {"field": "p", "type": "quantitative"}, "y": {"field": "s", "type": "quantitative"}, "text": {"field": "label"}}}
]},
{"width": 351, "height": 179, "layer": [
 {"data": {"name": "exp"}, "transform": [{"filter": "datum.panel === 'd'"}], "mark": {"type": "rule", "color": "#8c8c9c", "strokeWidth": 1},
  "encoding": {"x": {"field": "p", "type": "quantitative", "scale": {"type": "log", "domain": [0.1, 1000]}}, "y": {"field": "lo", "type": "quantitative", "scale": {"domain": [0, 120], "nice": false}}, "y2": {"field": "hi"}}},
 {"data": {"name": "exp"}, "transform": [{"filter": "datum.panel === 'd'"}], "mark": {"type": "tick", "orient": "horizontal", "size": 5, "thickness": 1, "color": "#8c8c9c"}, "encoding": {"x": {"field": "p", "type": "quantitative"}, "y": {"field": "lo", "type": "quantitative"}}},
 {"data": {"name": "exp"}, "transform": [{"filter": "datum.panel === 'd'"}], "mark": {"type": "tick", "orient": "horizontal", "size": 5, "thickness": 1, "color": "#8c8c9c"}, "encoding": {"x": {"field": "p", "type": "quantitative"}, "y": {"field": "hi", "type": "quantitative"}}},
 {"data": {"name": "exp"}, "transform": [{"filter": "datum.panel === 'd'"}], "mark": {"type": "point", "filled": false, "size": 300, "strokeWidth": 1.6, "opacity": 1},
  "encoding": {"x": {"field": "p", "type": "quantitative", "axis": {"title": "Plab (GeV/c)", "titlePadding": 2, "labelOverlap": false, "values": [0.1,0.2,0.3,0.4,0.5,0.6,0.7,0.8,0.9,1,2,3,4,5,6,7,8,9,10,20,30,40,50,60,70,80,90,100,200,300,400,500,600,700,800,900,1000], "labelExpr": "datum.value == 0.1 ? '0.1' : datum.value == 1 ? '1' : datum.value == 10 ? '10' : datum.value == 100 ? '100' : datum.value == 1000 ? '1000' : ''"}},
   "y": {"field": "s", "type": "quantitative", "axis": {"title": "σelastic (mb)", "labelOverlap": false, "tickCount": 7, "values": [0, 20, 40, 60, 80, 100, 120], "labelPadding": 4, "titlePadding": 10}},
   "color": {"datum": "Exp. data", "scale": {"domain": ["Exp. data", "CHIPS"], "range": ["black", "#ff00ff"]}, "legend": {"orient": "none", "legendX": 260, "legendY": -7}},
   "shape": {"datum": "Exp. data", "scale": {"domain": ["Exp. data", "CHIPS"], "range": ["M-0.05,-0.05H0.05V0.05H-0.05Z", "stroke"]}, "legend": {"orient": "none", "legendX": 260, "legendY": -7}}}},
 {"data": {"name": "chips"}, "transform": [{"filter": "datum.panel === 'd'"}], "mark": {"type": "line", "strokeWidth": 2.5, "interpolate": "monotone", "clip": true},
  "encoding": {"x": {"field": "p", "type": "quantitative"}, "y": {"field": "s", "type": "quantitative"}, "color": {"datum": "CHIPS"}}},
 {"data": {"name": "notes"}, "transform": [{"filter": "datum.panel === 'd'"}], "mark": {"type": "text", "font": "DejaVu Sans", "fontWeight": "bold", "fontSize": 22, "align": "center", "baseline": "middle", "color": "black"},
  "encoding": {"x": {"field": "p", "type": "quantitative"}, "y": {"field": "s", "type": "quantitative"}, "text": {"field": "label"}}}
]}
], "spacing": 12, "resolve": {"scale": {"x": "independent", "y": "independent", "color": "independent", "shape": "independent"}, "legend": {"color": "independent", "shape": "independent"}}}
]
}
